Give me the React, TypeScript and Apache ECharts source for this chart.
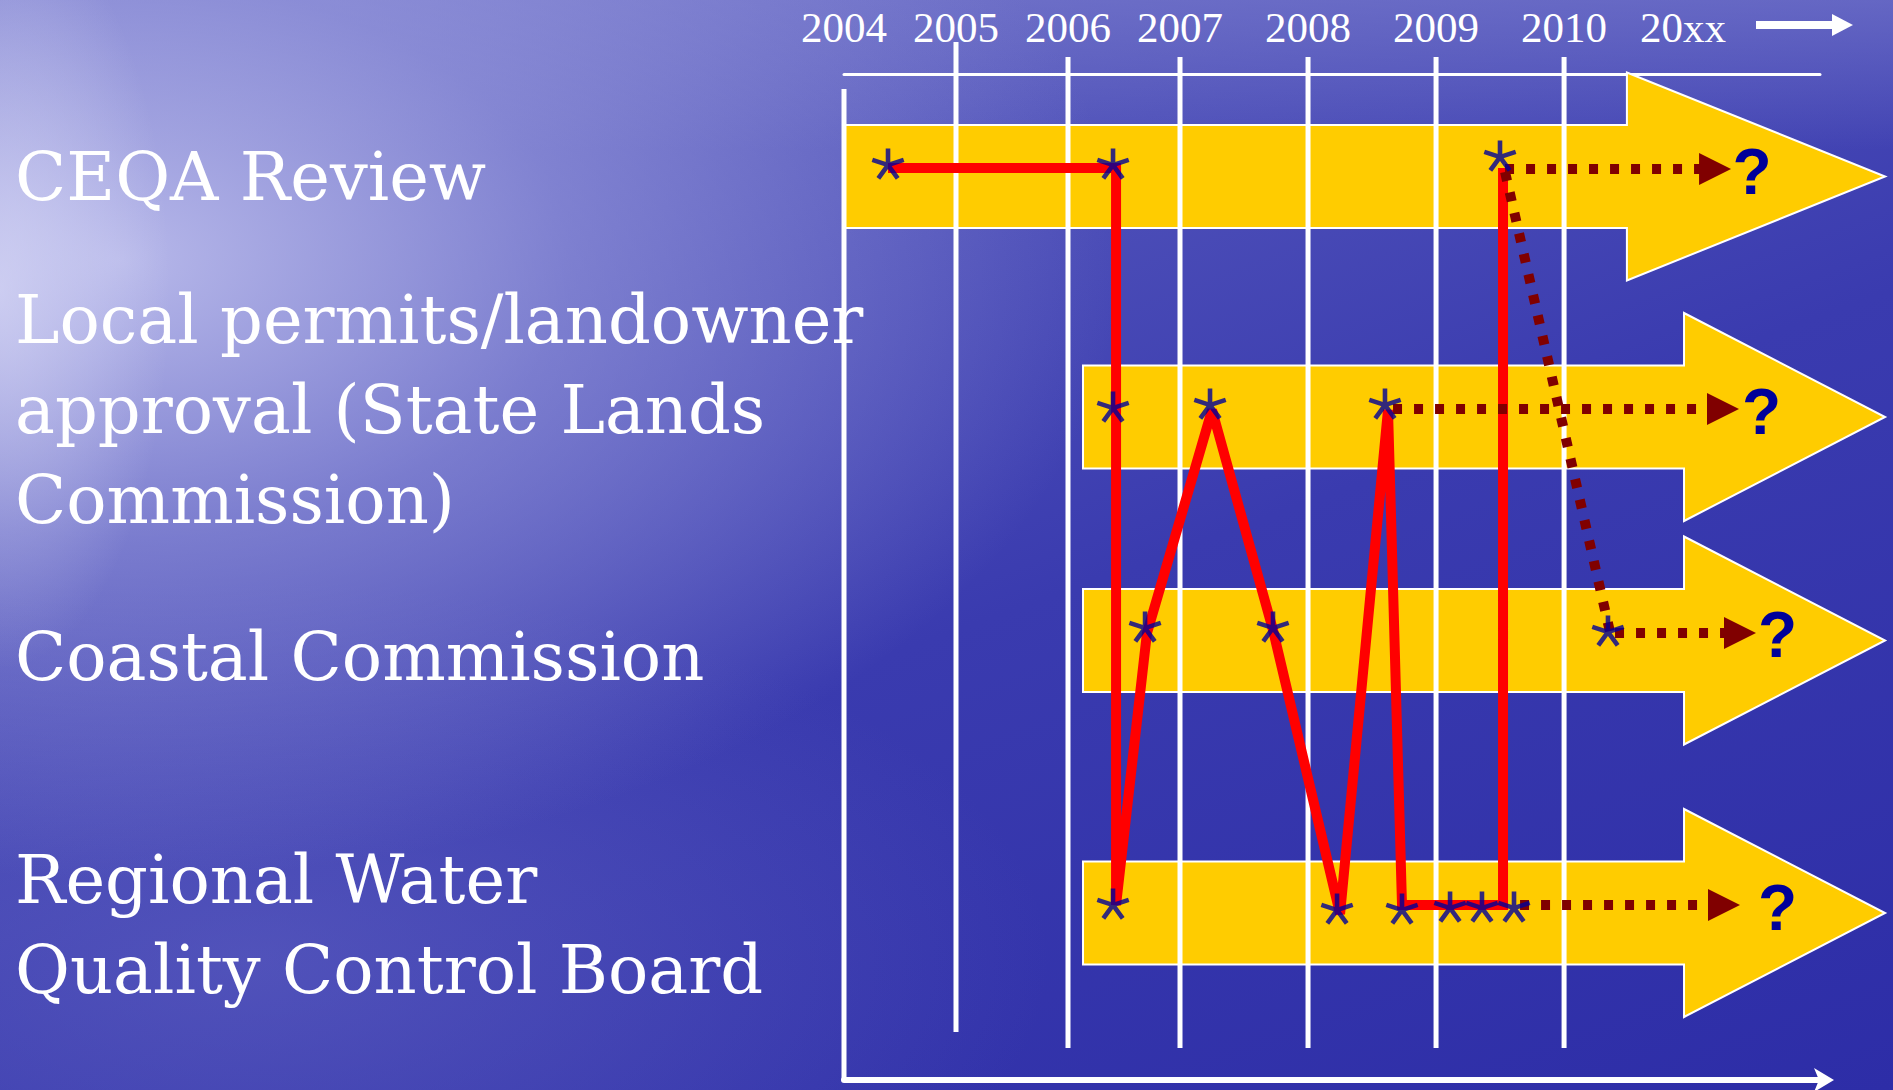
import React, { useEffect, useRef } from 'react';
import * as echarts from 'echarts';

// ---- timeline (x: slide timeline position, one unit = one 2004-2007 column) ----
const yearLabels = ['2004', '2005', '2006', '2007', '2008', '2009', '2010', '20xx'];
const yearPos = [0, 1, 2, 3, 4.143, 5.286, 6.429, 7.491];
const gridYearCount = 7;

// ---- rows (y: rows down the slide) ----
const rowTitles = [
  'CEQA Review',
  'Local permits/landowner\napproval (State Lands\nCommission)',
  'Coastal Commission',
  'Regional Water\nQuality Control Board',
];
const titlePos = [1.03, 3.36, 5.83, 8.51];

// yellow process arrows
const bandRow = [1.025, 3.43, 5.665, 8.39];
const bandStart = [0, 2.134, 2.134, 2.134];
const bandHeadBase = [6.99, 7.5, 7.5, 7.5];
const bandTip = [9.295, 9.295, 9.295, 9.295];

// red path of the process so far
const pathX = [0.393, 2.429, 2.429, 2.705, 3.286, 3.83, 4.429, 4.857, 4.982, 5.884, 5.884];
const pathY = [0.94, 0.94, 8.31, 5.59, 3.36, 5.56, 8.4, 3.36, 8.31, 8.31, 0.94];

// milestones (asterisks)
const starX = [0.393, 2.402, 5.857, 2.402, 3.268, 4.83, 2.688, 3.83, 6.821, 2.402, 4.402, 4.982, 5.411, 5.696, 5.982];
const starY = [0.91, 0.91, 0.83, 3.34, 3.31, 3.31, 5.54, 5.54, 5.58, 8.31, 8.36, 8.36, 8.34, 8.34, 8.34];

// pending steps (dotted arrows)
const pendStartX = [5.902, 4.902, 6.884, 6.036];
const pendStartY = [0.95, 3.35, 5.59, 8.31];
const pendEndX = [7.777, 7.848, 8.0, 7.857];
const pendEndY = [0.95, 3.35, 5.59, 8.31];
const linkX = [5.902, 6.839];
const linkY = [0.98, 5.58];
const questionX = [8.107, 8.192, 8.335, 8.335];
const questionY = [0.975, 3.375, 5.61, 8.34];

function asterisk(L: number, w: number) {
  let d = '';
  let minX = Infinity, maxX = -Infinity, minY = Infinity, maxY = -Infinity;
  for (let k = 0; k < 5; k++) {
    const a = (k * 72 * Math.PI) / 180;
    const dx = Math.sin(a), dy = -Math.cos(a);
    const px = -dy, py = dx;
    const pts = [
      [px * w - dx * w * 0.5, py * w - dy * w * 0.5],
      [px * w + dx * L, py * w + dy * L],
      [-px * w + dx * L, -py * w + dy * L],
      [-px * w - dx * w * 0.5, -py * w - dy * w * 0.5],
    ];
    pts.forEach((p) => {
      minX = Math.min(minX, p[0]); maxX = Math.max(maxX, p[0]);
      minY = Math.min(minY, p[1]); maxY = Math.max(maxY, p[1]);
    });
    d += 'M' + pts.map((p) => p[0].toFixed(2) + ' ' + p[1].toFixed(2)).join(' L') + ' Z ';
  }
  return {
    d,
    size: [maxX - minX, maxY - minY],
    offset: [(minX + maxX) / 2, (minY + maxY) / 2],
  };
}

function nearestIndex(arr: number[], v: number) {
  let best = 0;
  for (let i = 1; i < arr.length; i++) if (Math.abs(arr[i] - v) < Math.abs(arr[best] - v)) best = i;
  return best;
}

export default function App() {
  const ref = useRef<HTMLDivElement>(null);

  useEffect(() => {
    document.body.style.margin = '0';
    if (!ref.current) return;
    const chart = echarts.init(ref.current, null, { renderer: 'svg' });
    const star = asterisk(16.5, 2.3);
    const X_MAX = 8.714;
    const Y_MAX = 10.06;

    const pendingSeries = pendStartX.map((sx, i) => ({
      type: 'line',
      z: 4,
      xAxisIndex: 0,
      showSymbol: true,
      clip: false,
      lineStyle: { color: '#800000', width: 10, type: [9, 12], cap: 'butt' },
      itemStyle: { color: '#800000' },
      data: [
        { value: [sx, pendStartY[i]], symbol: 'none' },
        { value: [pendEndX[i], pendEndY[i]], symbol: 'triangle', symbolSize: [32, 32], symbolRotate: -90 },
      ],
    }));

    const option: any = {
      animation: false,
      grid: { left: 844, right: 73, top: 74, bottom: 10 },
      xAxis: [
        {
          type: 'value', position: 'top', min: 0, max: X_MAX,
          axisLine: { show: true, lineStyle: { color: '#ffffff', width: 3 } },
          axisTick: { show: false },
          splitLine: { show: false },
          axisLabel: {
            customValues: yearPos,
            formatter: (v: number) => yearLabels[nearestIndex(yearPos, v)],
            color: '#ffffff', fontFamily: 'Liberation Serif', fontSize: 43, margin: 25,
          },
        },
        {
          type: 'value', position: 'bottom', min: 0, max: X_MAX,
          axisLine: {
            show: true, symbol: ['none', 'arrow'], symbolSize: [18, 20], symbolOffset: [0, 14],
            lineStyle: { color: '#ffffff', width: 6 },
          },
          axisTick: { show: false },
          splitLine: { show: false },
          axisLabel: { show: false },
        },
      ],
      yAxis: {
        type: 'value', min: 0, max: Y_MAX, inverse: true,
        axisLine: { show: false },
        axisTick: { show: false },
        splitLine: { show: false },
        axisLabel: {
          customValues: titlePos,
          formatter: (v: number) => rowTitles[nearestIndex(titlePos, v)],
          align: 'left', margin: 829,
          color: '#ffffff', fontFamily: 'DejaVu Serif', fontSize: 67, lineHeight: 90,
        },
      },
      graphic: [
        {
          type: 'group', z: 10,
          children: [
            { type: 'line', shape: { x1: 1756, y1: 25, x2: 1836, y2: 25 }, style: { stroke: '#ffffff', lineWidth: 8 } },
            { type: 'polygon', shape: { points: [[1832, 14], [1853, 25], [1832, 36]] }, style: { fill: '#ffffff' } },
          ],
        },
      ],
      series: [
        {
          type: 'custom', name: 'process', z: 1, clip: false,
          data: bandStart.map((s, i) => [s, bandHeadBase[i], bandTip[i], bandRow[i]]),
          renderItem: (params: any, api: any) => {
            const s = api.coord([api.value(0), api.value(3)]);
            const hb = api.coord([api.value(1), api.value(3)]);
            const t = api.coord([api.value(2), api.value(3)]);
            const cy = s[1];
            const BH = 51.5, HH = 104;
            return {
              type: 'polygon',
              shape: {
                points: [
                  [s[0], cy - BH], [hb[0], cy - BH], [hb[0], cy - HH], [t[0], cy],
                  [hb[0], cy + HH], [hb[0], cy + BH], [s[0], cy + BH],
                ],
              },
              style: { fill: '#FFCC00', stroke: '#ffffff', lineWidth: 2 },
            };
          },
        },
        {
          type: 'custom', name: 'years', z: 2, clip: false,
          data: yearPos.slice(0, gridYearCount).map((x, i) => [x, i]),
          renderItem: (params: any, api: any) => {
            const i = api.value(1);
            const top = i === 0 ? 0.15 : i === 1 ? -0.32 : -0.17;
            const bottom = i === 0 ? Y_MAX : i === 1 ? 9.58 : 9.74;
            const a = api.coord([api.value(0), top]);
            const b = api.coord([api.value(0), bottom]);
            return {
              type: 'line',
              shape: { x1: a[0], y1: a[1], x2: b[0], y2: b[1] },
              style: { stroke: '#ffffff', lineWidth: 5 },
            };
          },
        },
        {
          type: 'line', name: 'progress', z: 3, showSymbol: false, clip: false,
          data: pathX.map((x, i) => [x, pathY[i]]),
          lineStyle: { color: '#ff0000', width: 10, join: 'miter', miterLimit: 2.5, cap: 'butt' },
        },
        ...pendingSeries,
        {
          type: 'line', name: 'link', z: 4, showSymbol: false, clip: false,
          data: linkX.map((x, i) => [x, linkY[i]]),
          lineStyle: { color: '#800000', width: 10, type: [9, 12], cap: 'butt' },
        },
        {
          type: 'scatter', name: 'milestones', z: 5, clip: false,
          symbol: 'path://' + star.d,
          symbolSize: star.size,
          symbolOffset: star.offset,
          itemStyle: { color: '#000099' },
          data: starX.map((x, i) => [x, starY[i]]),
        },
        {
          type: 'custom', name: 'unknown', z: 6, clip: false,
          data: questionX.map((x, i) => [x, questionY[i]]),
          renderItem: (params: any, api: any) => {
            const p = api.coord([api.value(0), api.value(1)]);
            return {
              type: 'text',
              x: p[0], y: p[1],
              style: {
                text: '?', fill: '#000099', fontFamily: 'Liberation Sans', fontWeight: 'bold', fontSize: 64,
                align: 'center', verticalAlign: 'middle',
              },
            };
          },
        },
      ],
    };

    chart.setOption(option);
    return () => chart.dispose();
  }, []);

  const bg = [
    'radial-gradient(ellipse 170px 380px at 0px 290px, rgba(240,240,255,0.5), rgba(240,240,255,0) 100%)',
    'radial-gradient(ellipse 1000px 620px at 120px 260px, rgba(198,199,241,0.85) 0%, rgba(160,162,225,0.55) 45%, rgba(140,142,215,0) 100%)',
    'radial-gradient(ellipse 800px 380px at 250px 960px, rgba(105,107,198,0.5), rgba(105,107,198,0) 100%)',
    'linear-gradient(180deg, rgba(120,122,205,0.6) 0px, rgba(120,122,205,0) 150px)',
    'linear-gradient(160deg, #6f71c6 0%, #4f51b9 30%, #3a3baf 55%, #2d2da7 100%)',
  ].join(',');

  return (
    <div
      ref={ref}
      style={{ width: 1893, height: 1090, background: bg, overflow: 'hidden' }}
    />
  );
}
